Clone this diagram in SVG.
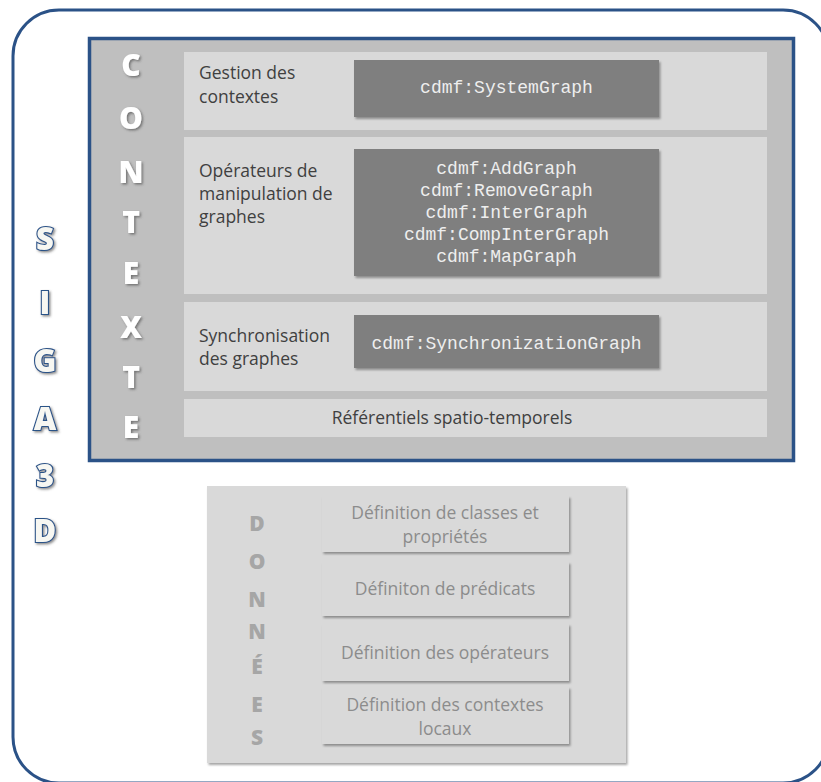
<svg xmlns="http://www.w3.org/2000/svg" width="821" height="782" viewBox="0 0 821 782">
<defs>
<filter id="sh" x="-10%" y="-10%" width="130%" height="140%">
<feDropShadow dx="1.5" dy="2" stdDeviation="1.2" flood-color="#000" flood-opacity="0.35"/>
</filter>
<filter id="lsh" x="-30%" y="-30%" width="160%" height="160%">
<feDropShadow dx="1.5" dy="1.5" stdDeviation="1" flood-color="#404040" flood-opacity="0.6"/>
</filter>
<style>
.row{fill:#d9d9d9}
.dark{fill:#7f7f7f;filter:url(#sh)}
.lab{font-family:"Open Sans",Lato,sans-serif;font-size:17.5px;fill:#404040}
.mono{font-family:"Liberation Mono","Courier New",monospace;font-size:18px;fill:#eeeeee;text-anchor:middle}
.ctx{font-family:"Open Sans",Lato,sans-serif;font-weight:800;font-size:30px;fill:#ffffff;text-anchor:middle;filter:url(#lsh)}
.sig{font-family:"Open Sans",Lato,sans-serif;font-weight:800;font-size:31px;fill:#f7f7f2;stroke:#2b5287;stroke-width:2.2;paint-order:stroke;text-anchor:middle;filter:url(#lsh)}
.don{font-family:"Open Sans",Lato,sans-serif;font-weight:800;font-size:21px;fill:#a6a6a6;text-anchor:middle}
.dbox{fill:#d9d9d9;filter:url(#sh)}
.dtxt{font-family:"Open Sans",Lato,sans-serif;font-size:17.5px;fill:#8c8c8c;text-anchor:middle}
</style>
</defs>
<rect width="821" height="782" fill="#ffffff"/>
<g id="siga3d">
<rect x="13" y="10" width="816" height="773" rx="46" ry="46" fill="#ffffff" stroke="#2b5287" stroke-width="3"/>
<text class="sig" x="45" y="250">S</text>
<text class="sig" x="45" y="314">I</text>
<text class="sig" x="45" y="372">G</text>
<text class="sig" x="45" y="430">A</text>
<text class="sig" x="45" y="487">3</text>
<text class="sig" x="45" y="542">D</text>
</g>
<g id="contexte">
<rect x="89.5" y="38.5" width="704" height="422" fill="#bfbfbf" stroke="#2b5287" stroke-width="3.5"/>
<text class="ctx" x="131" y="76">C</text>
<text class="ctx" x="131" y="129">O</text>
<text class="ctx" x="131" y="183">N</text>
<text class="ctx" x="131" y="233">T</text>
<text class="ctx" x="131" y="284">E</text>
<text class="ctx" x="131" y="338">X</text>
<text class="ctx" x="131" y="388">T</text>
<text class="ctx" x="131" y="438">E</text>
</g>
<g id="gestion">
<rect class="row" x="184" y="52" width="583" height="78"/>
<text class="lab" x="199" y="79">Gestion des</text>
<text class="lab" x="199" y="103">contextes</text>
<rect class="dark" x="354" y="60" width="305" height="57"/>
<text class="mono" x="506.5" y="93">cdmf:SystemGraph</text>
</g>
<g id="operateurs">
<rect class="row" x="184" y="137" width="583" height="157"/>
<text class="lab" x="199" y="177">Opérateurs de</text>
<text class="lab" x="199" y="200">manipulation de</text>
<text class="lab" x="199" y="223">graphes</text>
<rect class="dark" x="354" y="149" width="305" height="127"/>
<text class="mono" x="506.5" y="174">cdmf:AddGraph</text>
<text class="mono" x="506.5" y="196">cdmf:RemoveGraph</text>
<text class="mono" x="506.5" y="218">cdmf:InterGraph</text>
<text class="mono" x="506.5" y="240">cdmf:CompInterGraph</text>
<text class="mono" x="506.5" y="262">cdmf:MapGraph</text>
</g>
<g id="synchronisation">
<rect class="row" x="184" y="302" width="583" height="89"/>
<text class="lab" x="199" y="342">Synchronisation</text>
<text class="lab" x="199" y="365">des graphes</text>
<rect class="dark" x="354" y="315" width="305" height="53"/>
<text class="mono" x="506.5" y="349">cdmf:SynchronizationGraph</text>
</g>
<g id="referentiels">
<rect class="row" x="184" y="399" width="583" height="38"/>
<text class="lab" x="452" y="424" text-anchor="middle">Référentiels spatio-temporels</text>
</g>
<g id="donnees">
<rect class="dbox" x="207" y="486" width="419" height="277"/>
<text class="don" x="257" y="531">D</text>
<text class="don" x="257" y="569">O</text>
<text class="don" x="257" y="607">N</text>
<text class="don" x="257" y="639">N</text>
<text class="don" x="257" y="674">É</text>
<text class="don" x="257" y="712">E</text>
<text class="don" x="257" y="745">S</text>
</g>
<g id="def-classes">
<rect class="dbox" x="322" y="496" width="247" height="56"/>
<text class="dtxt" x="445" y="519">Définition de classes et</text>
<text class="dtxt" x="445" y="543">propriétés</text>
</g>
<g id="def-predicats">
<rect class="dbox" x="322" y="562" width="247" height="54"/>
<text class="dtxt" x="445" y="595">Définiton de prédicats</text>
</g>
<g id="def-operateurs">
<rect class="dbox" x="322" y="624" width="247" height="57"/>
<text class="dtxt" x="445" y="659">Définition des opérateurs</text>
</g>
<g id="def-contextes">
<rect class="dbox" x="322" y="687" width="247" height="57"/>
<text class="dtxt" x="445" y="711">Définition des contextes</text>
<text class="dtxt" x="445" y="735">locaux</text>
</g>
<g id="connectors"/>
</svg>
